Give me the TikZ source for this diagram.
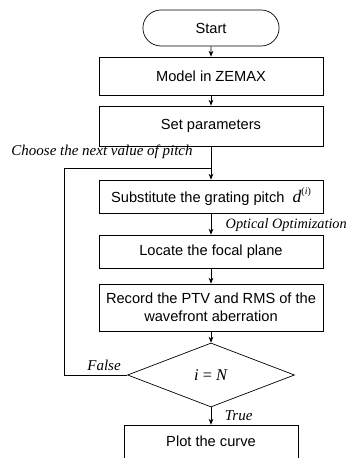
\documentclass[tikz,border=0pt]{standalone}
\usepackage{fontspec}
\setmainfont{Liberation Serif}
\setsansfont{Liberation Sans}
\usetikzlibrary{shapes.geometric,shapes.misc,arrows.meta}

\begin{document}
\begin{tikzpicture}[line width=0.6pt]

      \useasboundingbox (0,0) rectangle (10.56,13.74);

      \begin{scope}[every node/.style={draw,align=center,font=\sffamily\fontsize{12.5}{15}\selectfont}]
        \node[rounded rectangle,minimum width=4.32cm,minimum height=1.08cm] (start) at (6.33,12.9) {Start};
        \node[minimum width=6.72cm,minimum height=1.14cm] (model)  at (6.33,11.46) {Model in ZEMAX};
        \node[minimum width=6.72cm,minimum height=1.2cm]  (params) at (6.33,9.96)  {Set parameters};
        \node[minimum width=6.72cm,minimum height=0.99cm] (subst)  at (6.33,7.845) {Substitute the grating pitch\ \ {\rmfamily\itshape\fontsize{15}{15}\selectfont d}\raisebox{1ex}{\rmfamily\fontsize{8.5}{9}\selectfont(\textit{i})}};
        \node[minimum width=6.72cm,minimum height=0.99cm] (locate) at (6.33,6.195) {Locate the focal plane};
        \node[minimum width=6.72cm,minimum height=1.41cm] (record) at (6.33,4.515) {Record the PTV and RMS of the\\wavefront aberration};
        \node[diamond,aspect=2.6,inner sep=0pt,minimum width=5.01cm,minimum height=1.92cm,font=\rmfamily\fontsize{14}{16}\selectfont] (check) at (6.33,2.49) {\textit{i} = \textit{N}};
        \node[minimum width=5.22cm,minimum height=0.99cm] (plot)   at (6.33,0.495) {Plot the curve};
      \end{scope}

      \coordinate (join)   at (6.33,8.7);
      \coordinate (corner) at (1.92,8.7);

      \begin{scope}[every node/.style={font=\rmfamily\itshape\fontsize{12.8}{15}\selectfont}]
        \node (choose) at (3.06,9.18) {Choose the next value of pitch};
        \node[anchor=west,inner sep=0pt,font=\rmfamily\itshape\fontsize{12.2}{15}\selectfont] (optim) at (6.76,6.99) {Optical Optimization};
        \node (false) at (3.12,2.79) {False};
        \node[anchor=west] (true) at (6.62,1.26) {True};
      \end{scope}

      \begin{scope}[every edge/.style={draw,-{Stealth[length=5pt,width=4pt]}}]
        \path (start)  edge (model);
        \path (model)  edge (params);
        \path (params) edge (subst);
        \path (subst)  edge (locate);
        \path (locate) edge (record);
        \path (record) edge (check);
        \path (check)  edge (plot);
      \end{scope}

      \draw (check.west) -| (corner) -- (join);

    \end{tikzpicture}
\end{document}
